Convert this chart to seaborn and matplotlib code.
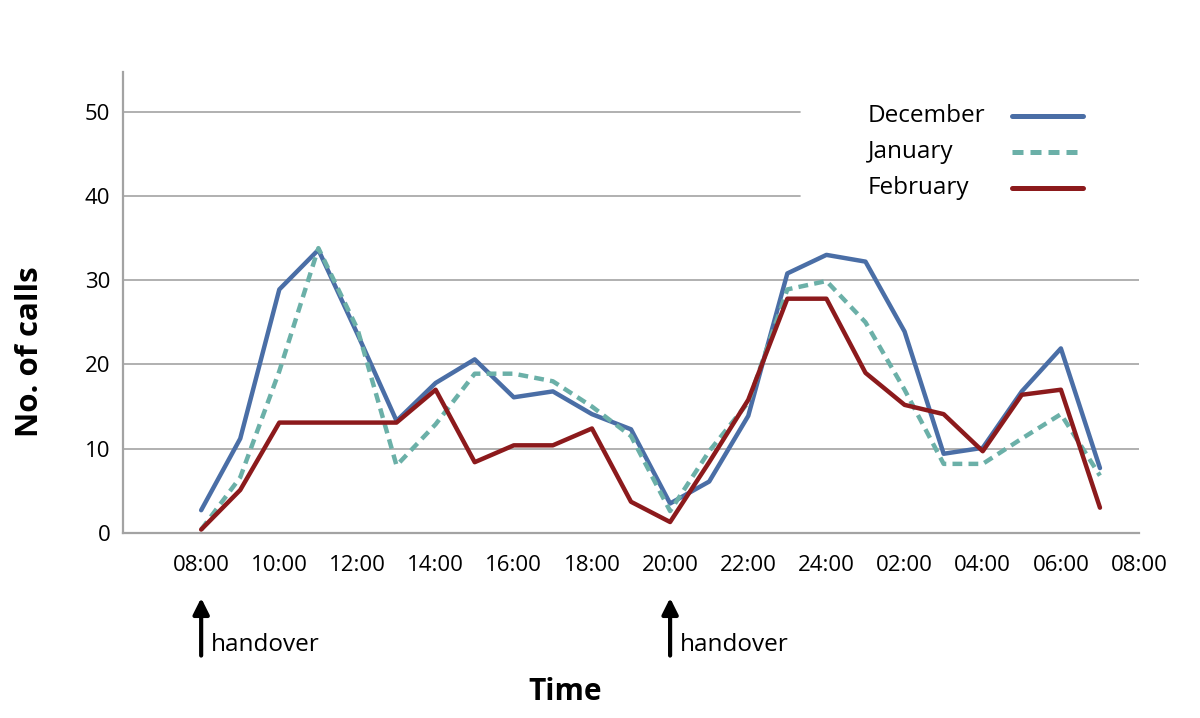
import pandas as pd
import matplotlib.pyplot as plt
import seaborn as sns
from matplotlib.lines import Line2D

# hourly call counts, 08:00 through 07:00 next morning (hours past midnight of day 1)
hours = [8, 9, 10, 11, 12, 13, 14, 15, 16, 17, 18, 19,
         20, 21, 22, 23, 24, 25, 26, 27, 28, 29, 30, 31]
december = [2.7, 11.2, 28.9, 33.6, 23.6, 13.3, 17.8, 20.6, 16.1, 16.8, 14.1, 12.3,
            3.5, 6.1, 13.9, 30.8, 33.0, 32.2, 23.9, 9.4, 10.1, 16.8, 21.9, 7.7]
january = [0.4, 6.6, 19.2, 33.8, 24.2, 8.0, 12.9, 18.9, 18.9, 18.0, 15.0, 11.5,
           2.6, 9.7, 15.5, 28.9, 29.9, 25.0, 17.0, 8.2, 8.2, 11.2, 14.1, 6.8]
february = [0.4, 5.1, 13.1, 13.1, 13.1, 13.1, 17.0, 8.4, 10.4, 10.4, 12.4, 3.7,
            1.3, 8.4, 15.8, 27.8, 27.8, 19.0, 15.2, 14.1, 9.7, 16.4, 17.0, 3.0]

months = ["December", "January", "February"]
colors = ["#4a6ea6", "#6bb0a8", "#8c1a1c"]
month_dashes = {"December": "", "January": (2.2, 1.4), "February": ""}

tick_pos = [6, 8, 10, 12, 14, 16, 18, 20, 22, 24, 26, 28, 30, 32]
tick_labels = ["", "08:00", "10:00", "12:00", "14:00", "16:00", "18:00", "20:00",
               "22:00", "24:00", "02:00", "04:00", "06:00", "08:00"]
handovers = [8, 20]

df = pd.DataFrame({"hour": hours, "December": december,
                   "January": january, "February": february})
long = df.melt(id_vars="hour", var_name="month", value_name="calls")

sns.set_style("white")
plt.rcParams["font.family"] = ["Open Sans", "DejaVu Sans"]
plt.rcParams["text.color"] = "black"

fig = plt.figure(figsize=(12, 7.18), dpi=100)
ax = fig.add_axes([0.1025, 0.2577, 0.8467, 0.642])

grey = "#a3a3a3"
for v in [10, 20, 30]:
    ax.axhline(v, color=grey, lw=1.2, zorder=0)
for v in [40, 50]:
    ax.axhline(v, xmax=0.666, color=grey, lw=1.2, zorder=0)

sns.lineplot(data=long, x="hour", y="calls", hue="month", style="month",
             hue_order=months, style_order=months,
             palette=dict(zip(months, colors)), dashes=month_dashes,
             linewidth=3.2, legend=False, ax=ax)

ax.set_xlim(6, 32)
ax.set_ylim(0, 54.7)
ax.set_xticks(tick_pos)
ax.set_xticklabels(tick_labels)
ax.set_yticks([0, 10, 20, 30, 40, 50])
ax.set_xlabel("")
ax.set_ylabel("")
for s in ["top", "right"]:
    ax.spines[s].set_visible(False)
for s in ["left", "bottom"]:
    ax.spines[s].set_color(grey)
    ax.spines[s].set_linewidth(1.6)
ax.tick_params(axis="x", length=7, width=1.6, color=grey, labelsize=16,
               labelcolor="black", pad=9)
ax.tick_params(axis="y", length=5, width=1.6, color=grey, labelsize=16,
               labelcolor="black", pad=4)

# legend laid out as a table: labels left-aligned, sample lines in one column
for i, (m, c) in enumerate(zip(months, colors)):
    y = 1 - (116 + 36 * i) / 718
    fig.text(868 / 1200, y, m, fontsize=17.5, ha="left", va="center")
    fig.add_artist(Line2D([1012 / 1200, 1083 / 1200], [y, y], color=c, lw=3.6,
                          dashes=month_dashes[m] if month_dashes[m] else (None, None),
                          transform=fig.transFigure))

for h in handovers:
    ax.annotate("", xy=(h, -0.135), xytext=(h, -0.272),
                xycoords=ax.get_xaxis_transform(),
                arrowprops=dict(arrowstyle="-|>", color="black", lw=3,
                                mutation_scale=24))
    ax.text(h + 0.25, -0.243, "handover", transform=ax.get_xaxis_transform(),
            fontsize=17.5, va="center", ha="left")

fig.text(565 / 1200, 1 - 692 / 718, "Time", fontsize=21.5, fontweight="bold",
         ha="center", va="center")
fig.text(30 / 1200, 1 - 352 / 718, "No. of calls", fontsize=22.5, fontweight="bold",
         ha="center", va="center", rotation=90)

fig.savefig("out.png", dpi=100)
